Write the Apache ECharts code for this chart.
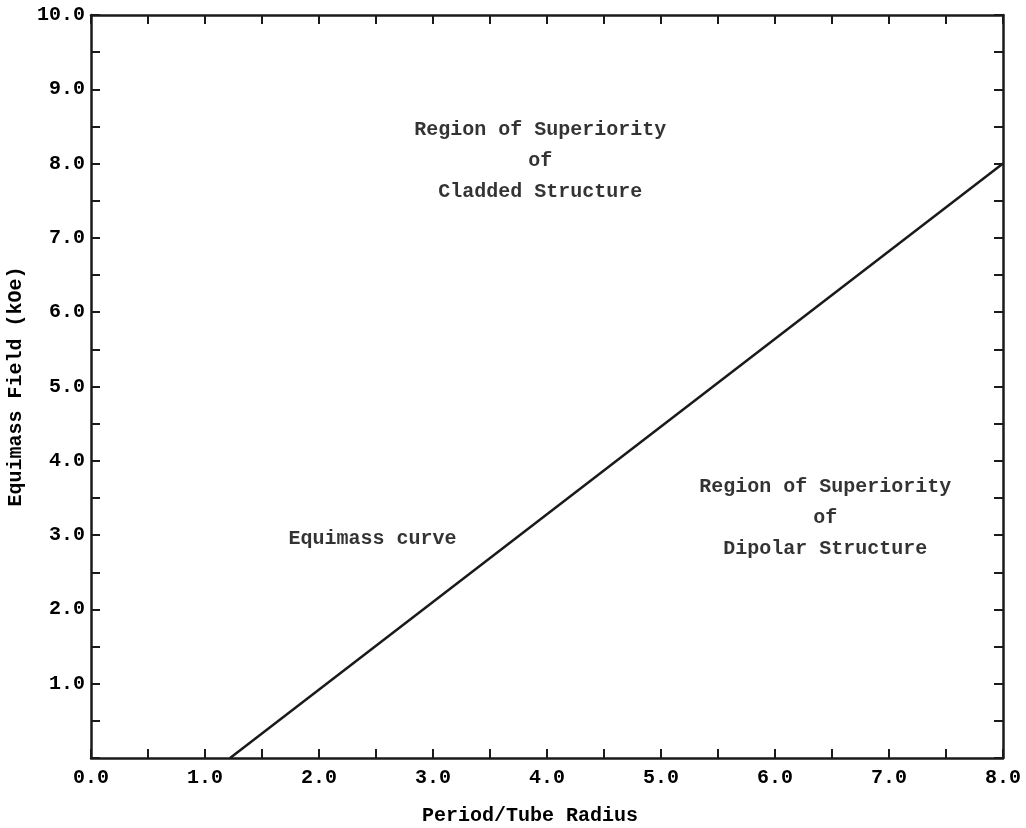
<!DOCTYPE html>
<html>
<head>
<meta charset="utf-8">
<title>Equimass curve</title>
<script src="https://cdn.jsdelivr.net/npm/echarts@6/dist/echarts.min.js"></script>
<style>
  html, body { margin: 0; padding: 0; background: #fff; }
  #chart { width: 1026px; height: 828px; }
</style>
</head>
<body>
<div id="chart"></div>
<script>
// equimass curve
const curveX = [1.22, 8.0]
const curveY = [0.0, 8.0]

// region annotations (data coordinates)
const noteText = [
  'Region of Superiority\nof\nCladded Structure',
  'Region of Superiority\nof\nDipolar Structure',
  'Equimass curve'
]
const noteX = [3.94, 6.44, 2.47]
const noteY = [8.03, 3.23, 2.95]

const xMin = 0, xMax = 8, xStep = 1
const yMin = 0, yMax = 10, yStep = 1

const ink = '#1a1a1a'
const font = 'Liberation Mono'

const chart = echarts.init(document.getElementById('chart'))

const baseAxis = {
  axisLine: { show: true, onZero: false, lineStyle: { color: ink, width: 2.5 } },
  axisTick: { show: true, inside: true, length: 9, lineStyle: { color: ink, width: 2 } },
  minorTick: { show: true, splitNumber: 2, length: 9, lineStyle: { color: ink, width: 2 } },
  splitLine: { show: false },
  minorSplitLine: { show: false }
}

const textStyle = { fontFamily: font, fontSize: 20, fontWeight: 'bold', color: '#000' }

const option = {
  backgroundColor: '#fff',
  animation: false,
  grid: { left: 91, right: 23, top: 15, bottom: 70, outerBoundsMode: 'none', containLabel: false },
  xAxis: [
    {
      ...baseAxis,
      type: 'value',
      position: 'bottom',
      min: xMin,
      max: xMax,
      interval: xStep,
      name: 'Period/Tube Radius',
      nameLocation: 'middle',
      nameGap: 48,
      nameTextStyle: { ...textStyle, padding: [0, 34, 0, 0] },
      axisLabel: {
        ...textStyle,
        margin: 10,
        formatter: v => v.toFixed(1)
      }
    },
    {
      ...baseAxis,
      type: 'value',
      position: 'top',
      min: xMin,
      max: xMax,
      interval: xStep,
      axisLabel: { show: false }
    }
  ],
  yAxis: [
    {
      ...baseAxis,
      type: 'value',
      position: 'left',
      min: yMin,
      max: yMax,
      interval: yStep,
      name: 'Equimass Field (kOe)',
      nameLocation: 'middle',
      nameGap: 59,
      nameTextStyle: { ...textStyle },
      axisLabel: {
        ...textStyle,
        margin: 6,
        formatter: v => (v === 0 ? '' : v.toFixed(1))
      }
    },
    {
      ...baseAxis,
      type: 'value',
      position: 'right',
      min: yMin,
      max: yMax,
      interval: yStep,
      axisLabel: { show: false }
    }
  ],
  series: [
    {
      name: 'Equimass curve',
      type: 'line',
      xAxisIndex: 0,
      yAxisIndex: 0,
      data: curveX.map((x, i) => [x, curveY[i]]),
      showSymbol: false,
      lineStyle: { color: ink, width: 2.5 }
    },
    {
      name: 'notes',
      type: 'scatter',
      xAxisIndex: 0,
      yAxisIndex: 0,
      symbolSize: 1,
      itemStyle: { color: 'rgba(0,0,0,0)' },
      silent: true,
      data: noteX.map((x, i) => ({ value: [x, noteY[i]], text: noteText[i] })),
      label: {
        ...textStyle,
        show: true,
        position: 'inside',
        align: 'center',
        verticalAlign: 'middle',
        lineHeight: 31,
        formatter: p => p.data.text
      }
    }
  ]
}

chart.setOption(option)
</script>
</body>
</html>
